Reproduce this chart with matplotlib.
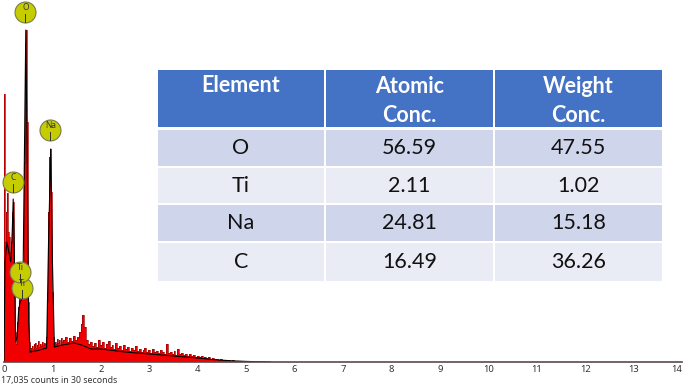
import numpy as np
import matplotlib.pyplot as plt
from matplotlib.patches import Rectangle

# EDS spectrum, counts (arbitrary units, 1 unit ~ 1 px)
# fine channels 0.00 - 1.20 keV, step 0.02
counts_lo = [60, 268, 120, 150, 169, 130, 125, 110, 120, 150,
             160, 90, 30, 18, 40, 55, 64, 70, 72, 66,
             80, 200, 318, 332, 240, 60, 20, 10, 14, 16,
             13, 18, 15, 19, 14, 17, 21, 15, 18, 16,
             20, 17, 19, 18, 25, 60, 150, 205, 213, 170,
             70, 25, 17, 20, 18, 23, 19, 22, 17, 24,
             20]
# coarse channels from 1.24 keV, step 0.04
counts_hi = [22, 25, 20, 24, 21, 26, 22, 25, 30, 38,
             47, 35, 22, 18, 20, 16, 19, 15, 22, 17,
             20, 14, 18, 21, 15, 17, 13, 19, 14, 16,
             12, 17, 13, 15, 11, 14, 12, 16, 11, 13,
             10, 12, 14, 10, 12, 9, 13, 10, 11, 9,
             12, 10, 8, 18, 9, 10, 8, 11, 7, 13,
             8, 9, 7, 8, 6, 8, 6, 7, 5, 6,
             5, 6, 4, 5, 4, 5, 3, 4, 3, 3.5,
             2.5, 3, 2, 2.5, 2, 2, 1.5, 2, 1.5, 1.5,
             1.2, 1.5, 1, 1.2, 1, 0.8, 1, 0.6, 0.5, 0.4,
             0.3, 0.2, 0.1, 0, 0]

# fitted spectrum (black line)
fit_e = [0.00, 0.02, 0.06, 0.10, 0.14, 0.17, 0.19, 0.21, 0.24, 0.27, 0.30, 0.33,
         0.36, 0.39, 0.42, 0.45, 0.48, 0.51, 0.54, 0.70, 0.88, 0.92, 0.965, 1.00,
         1.04, 1.20, 1.45, 1.60, 1.80, 2.00, 2.50, 3.00, 3.50, 4.00, 4.30, 4.70,
         5.00, 5.30, 5.50]
fit_c = [0, 100, 120, 110, 100, 130, 163, 120, 20, 25, 50, 60,
         62, 70, 200, 332, 200, 40, 10, 11.5, 14, 120, 213, 100,
         15, 17, 19, 17, 13, 13, 10, 8, 6, 4, 2.5, 1.2,
         0.6, 0.2, 0]

# peak labels: (element, energy keV, marker height)
labels = ['Ti', 'Ti', 'C', 'Na', 'O']
label_e = [0.378, 0.33, 0.186, 0.96, 0.44]
label_h = [74, 90, 180, 232, 350]

# quantification table
elements = ['O', 'Ti', 'Na', 'C']
atomic = ['56.59', '2.11', '24.81', '16.49']
weight = ['47.55', '1.02', '15.18', '36.26']
headers = ['Element', 'Atomic\nConc.', 'Weight\nConc.']

e_lo = 0.02 * np.arange(len(counts_lo))
e_hi = 1.24 + 0.04 * np.arange(len(counts_hi))
energy = np.concatenate([e_lo, e_hi])
counts = np.concatenate([counts_lo, counts_hi])

fig = plt.figure(figsize=(6.85, 3.86), dpi=100)
ax = fig.add_axes([4/685, 24/386, 678/685, 362/386])
ax.fill_between(energy, counts, step='mid', color='#f00000', lw=0)
ax.step(energy, counts, where='mid', color='#a00000', lw=0.5)
ax.plot(fit_e, fit_c, color='black', lw=0.8)
ax.set_xlim(0, 14)
ax.set_ylim(0, 362)

for s in ['top', 'right', 'left']:
    ax.spines[s].set_visible(False)
ax.spines['bottom'].set_color('#5a4a4a')
ax.spines['bottom'].set_linewidth(1.2)
ax.set_xticks(range(15))
ax.set_yticks([])
ax.tick_params(axis='x', length=0, pad=2, labelsize=6.8, labelcolor='#333333')
for t in ax.get_xticklabels():
    t.set_fontfamily('Noto Sans')
ax.get_xticklabels()[-1].set_horizontalalignment('right')

# peak markers
for el, e, h in zip(labels, label_e, label_h):
    ax.scatter([e], [h], s=228, color='#c5cc00', edgecolor='#7a7a50', lw=0.8,
               zorder=5, clip_on=False)
    ax.plot([e, e], [h - 2, h - 9.5], color='#333333', lw=0.7, zorder=6)
    ax.text(e, h + 4, el, ha='center', va='center', fontsize=6,
            color='#333333', family='Noto Sans', zorder=7)

fig.text(1/685, 1 - 380/386, '17,035 counts in 30 seconds', fontsize=6.3,
         va='center', ha='left', color='#333333', family='Noto Sans')

# table drawn in pixel coordinates
tab = fig.add_axes([0, 0, 1, 1])
tab.set_xlim(0, 685)
tab.set_ylim(386, 0)
tab.axis('off')

col_x = [157, 325, 494, 663]
row_y = [(130, 166), (168, 203), (205, 241), (243, 281)]
gap = 1

for j in range(3):
    x0, x1 = col_x[j] + gap, col_x[j + 1] - gap
    tab.add_patch(Rectangle((x0, 70), x1 - x0, 57, color='#4472c4', lw=0))
    if j == 0:
        tab.text((x0 + x1) / 2, 86, headers[j], ha='center', va='center', color='white',
                 fontsize=15.5, fontweight='bold', family='Lato')
    else:
        tab.text((x0 + x1) / 2, 101, headers[j], ha='center', va='center', color='white',
                 fontsize=15.5, fontweight='bold', family='Lato', linespacing=1.45)

for i in range(4):
    y0, y1 = row_y[i]
    fc = '#cfd5ea' if i % 2 == 0 else '#e9ebf5'
    vals = [elements[i], atomic[i], weight[i]]
    for j in range(3):
        x0, x1 = col_x[j] + gap, col_x[j + 1] - gap
        tab.add_patch(Rectangle((x0, y0), x1 - x0, y1 - y0, color=fc, lw=0))
        tab.text((x0 + x1) / 2, (y0 + y1) / 2, vals[j], ha='center', va='center',
                 color='#111111', fontsize=15.5, family='Lato')

fig.savefig('out.png', dpi=100)
